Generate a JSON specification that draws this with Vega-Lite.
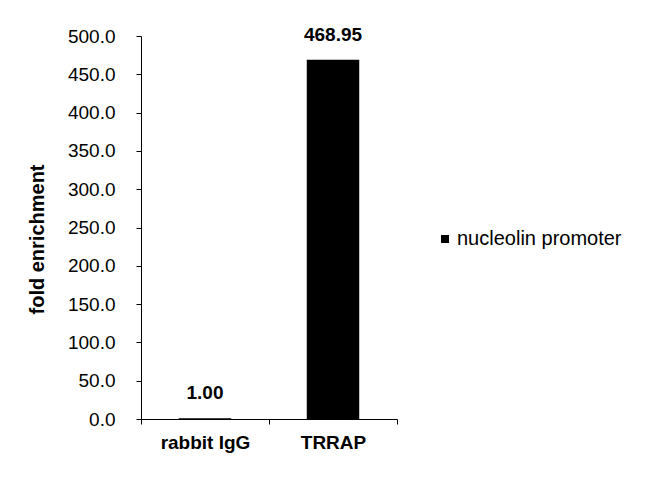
{
  "$schema": "https://vega.github.io/schema/vega-lite/v6.json",
  "width": 256,
  "height": 383,
  "autosize": {"type": "none"},
  "padding": {"left": 141, "top": 36, "right": 253, "bottom": 59},
  "background": "white",
  "config": {
    "view": {"stroke": null},
    "font": "Liberation Sans",
    "axis": {"domainColor": "black", "tickColor": "black", "labelColor": "black", "titleColor": "black", "grid": false}
  },
  "data": {
    "values": [
      {"sample": "rabbit IgG", "series": "nucleolin promoter", "value": 1.0, "label": "1.00"},
      {"sample": "TRRAP", "series": "nucleolin promoter", "value": 468.95, "label": "468.95"}
    ]
  },
  "encoding": {
    "x": {
      "field": "sample",
      "type": "nominal",
      "sort": null,
      "scale": {"paddingInner": 0, "paddingOuter": 0},
      "axis": {
        "title": null,
        "labelAngle": 0,
        "labelFontSize": 19,
        "labelFontWeight": "bold",
        "tickBand": "extent",
        "tickSize": 5,
        "labelPadding": 9
      }
    },
    "y": {
      "field": "value",
      "type": "quantitative",
      "scale": {"domain": [0, 500], "nice": false},
      "axis": {
        "title": "fold enrichment",
        "titleFontSize": 20,
        "titleFontWeight": "bold",
        "titleAngle": 270,
        "titleX": -104,
        "titleY": 203,
        "titleAlign": "center",
        "titleBaseline": "middle",
        "values": [0, 50, 100, 150, 200, 250, 300, 350, 400, 450, 500],
        "format": ".1f",
        "labelFontSize": 19,
        "tickSize": 5,
        "labelPadding": 21
      }
    }
  },
  "layer": [
    {
      "mark": {"type": "bar", "width": {"band": 0.41}},
      "encoding": {
        "color": {
          "field": "series",
          "type": "nominal",
          "scale": {"range": ["black"]},
          "legend": {
            "title": null,
            "orient": "none",
            "legendX": 294,
            "legendY": 193,
            "symbolType": "square",
            "symbolSize": 64,
            "symbolStrokeWidth": 0,
            "symbolOpacity": 1,
            "labelFontSize": 20,
            "labelLimit": 300,
            "labelColor": "black",
            "labelOffset": 2,
            "padding": 0
          }
        }
      }
    },
    {
      "mark": {"type": "text", "fontSize": 19, "fontWeight": "bold", "baseline": "alphabetic", "dy": -19, "color": "black"},
      "encoding": {"text": {"field": "label"}}
    }
  ]
}
